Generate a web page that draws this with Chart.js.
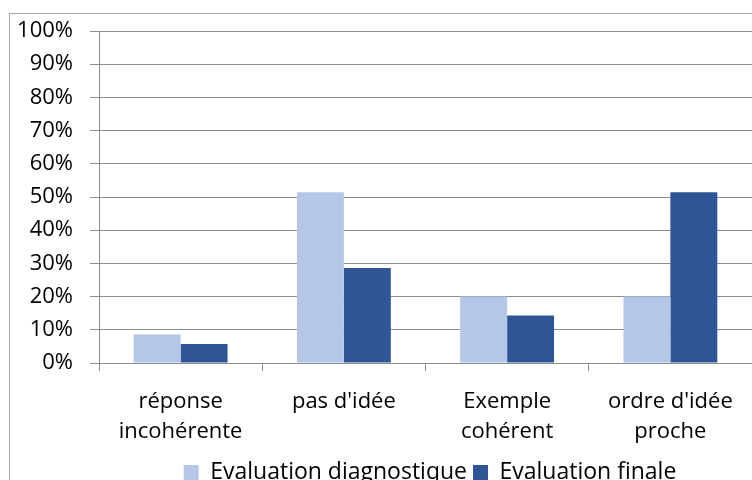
<!DOCTYPE html>
<html>
<head>
<meta charset="utf-8">
<script src="https://cdn.jsdelivr.net/npm/chart.js@4"></script>
<style>
  html, body { margin: 0; padding: 0; background: #fff; overflow: hidden; }
  #wrap { position: absolute; left: 0; top: 0; width: 752px; height: 500px; }
</style>
</head>
<body>
<div id="wrap"><canvas id="evalCanvas" width="752" height="500"></canvas></div>
<script>
// categories (multi-line labels as in the original)
const categories = [
  ["réponse", "incohérente"],
  ["pas d'idée"],
  ["Exemple", "cohérent"],
  ["ordre d'idée", "proche"]
];
const diagnostique = [8.6, 51.4, 20.0, 20.0];
const finale = [5.7, 28.6, 14.3, 51.4];
const yTicks = [0, 10, 20, 30, 40, 50, 60, 70, 80, 90, 100];

const lightBlue = "#b4c7e7";
const darkBlue = "#2f5597";
const gridGray = "#8c8c8c";
const fontFam = "'Open Sans', sans-serif";

// outer frame like the excel chart box
const frame = {
  id: "frame",
  beforeDraw(chart) {
    const c = chart.ctx;
    c.save();
    c.fillStyle = "#fff";
    c.fillRect(0, 0, chart.width, chart.height);
    c.strokeStyle = "#a6a6a6";
    c.lineWidth = 1;
    c.beginPath();
    c.moveTo(9.5, chart.height + 5);
    c.lineTo(9.5, 13.5);
    c.lineTo(chart.width + 5, 13.5);
    c.stroke();
    c.restore();
  }
};

// the original chart box is wider than the picture, so its legend sits right of centre
const legendShift = {
  id: "legendShift",
  afterLayout(chart) {
    chart.legend.left += 54;
    chart.legend.right += 54;
  }
};

const evalChart = new Chart(document.getElementById("evalCanvas"), {
  type: "bar",
  data: {
    labels: categories,
    datasets: [{
      label: "Evaluation diagnostique",
      data: diagnostique,
      backgroundColor: lightBlue,
      categoryPercentage: 0.575,
      barPercentage: 1.0
    }, {
      label: "Evaluation finale",
      data: finale,
      backgroundColor: darkBlue,
      categoryPercentage: 0.575,
      barPercentage: 1.0
    }]
  },
  options: {
    responsive: false,
    animation: false,
    layout: { padding: { left: 0, top: 31, right: 0, bottom: 6 } },
    plugins: {
      tooltip: { enabled: false },
      legend: {
        position: "bottom",
        labels: {
          font: { family: fontFam, size: 23 },
          color: "#000",
          boxWidth: 15,
          boxHeight: 15,
          padding: 6
        }
      }
    },
    scales: {
      x: {
        grid: {
          display: true,
          drawOnChartArea: false,
          drawTicks: true,
          tickLength: 8,
          color: gridGray
        },
        border: { color: gridGray },
        ticks: {
          font: { family: fontFam, size: 22, lineHeight: 1.4 },
          color: "#000",
          padding: 15,
          maxRotation: 0
        },
        afterFit(scale) { scale.height = 92; }
      },
      y: {
        min: 0,
        max: 100,
        afterBuildTicks(scale) { scale.ticks = yTicks.map(v => ({ value: v })); },
        afterFit(scale) { scale.width = 99; },
        grid: { color: gridGray, tickLength: 9 },
        border: { color: gridGray },
        ticks: {
          font: { family: fontFam, size: 22 },
          color: "#000",
          padding: 17,
          callback: v => v + "%"
        }
      }
    }
  },
  plugins: [frame, legendShift]
});
</script>
</body>
</html>
